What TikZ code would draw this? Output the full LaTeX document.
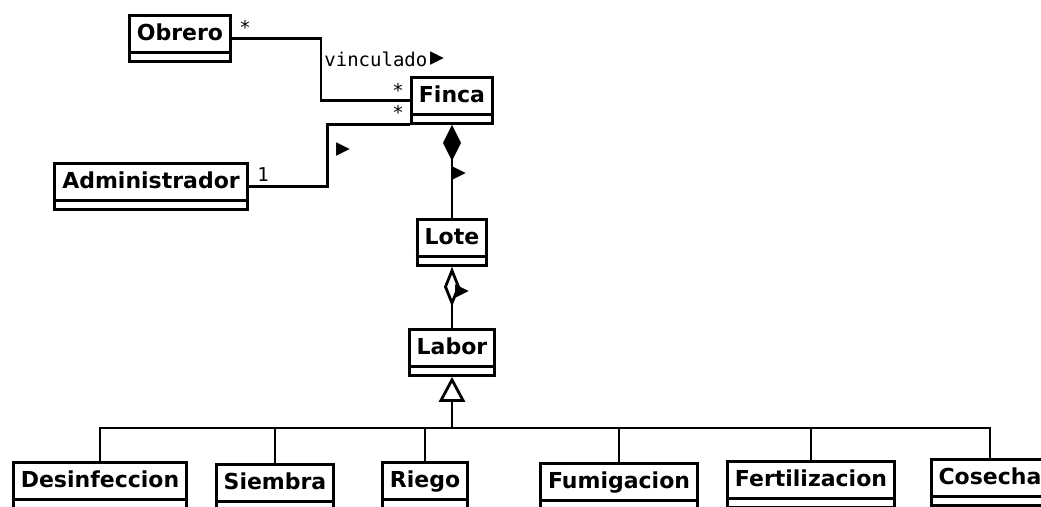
\documentclass[tikz,border=0pt]{standalone}
\usepackage{fontspec}
\setmainfont{DejaVu Sans}
\newfontfamily\monofont{DejaVu Sans Mono}
\usetikzlibrary{arrows.meta}

\begin{document}
\begin{tikzpicture}[x=1pt,y=-1pt,line width=2.8pt,
    clase/.style={draw,anchor=north,font=\fontsize{22}{26}\selectfont\bfseries,
      inner xsep=7.5pt,inner ysep=0pt,text height=25pt,text depth=21pt},
    etiqueta/.style={font=\fontsize{19}{21}\selectfont\monofont,inner sep=0pt},
    sentido/.style={font=\fontsize{23}{25}\selectfont\monofont,inner sep=0pt}]
  \clip (0,0) rectangle (1041,506);
  \node[clase] (obrero) at (180,14) {Obrero};
  \node[clase] (finca) at (452,76) {Finca};
  \node[clase] (admin) at (151,162) {Administrador};
  \node[clase] (lote) at (452,218) {Lote};
  \node[clase] (labor) at (452,328) {Labor};
  \node[clase] (desinf) at (100,461) {Desinfeccion};
  \node[clase] (siembra) at (275,463) {Siembra};
  \node[clase] (riego) at (425,461) {Riego};
  \node[clase] (fumig) at (619,462) {Fumigacion};
  \node[clase] (fertil) at (811,460) {Fertilizacion};
  \node[clase] (cosecha) at (990,458) {Cosecha};
  % compartimento vacio de cada clase
  \foreach \c in {obrero,finca,admin,lote,labor,desinf,siembra,riego,fumig,fertil,cosecha}
    \draw ([yshift=10pt]\c.south west) -- ([yshift=10pt]\c.south east);
  % asociaciones
  \draw (obrero.east) -- ++(89,0) |- (finca);
  \draw (admin.east) -- ++(79,0) |- (finca.south west);
  \draw[-{Diamond[length=36pt,width=18pt]}] (lote) -- (finca);
  \draw[-{Diamond[open,length=40pt,width=16pt]}] (labor) -- (lote);
  % herencia
  \coordinate (bus) at (452,428);
  \draw[-{Triangle[open,length=25pt,width=26pt]}] (bus) -- (labor);
  \foreach \c in {desinf,siembra,riego,fumig,fertil,cosecha}
    \draw (\c) |- (bus);
  % multiplicidades y nombres
  \node[etiqueta] (m1) at (245,27) {*};
  \node[etiqueta,anchor=west] (vinc) at (323,59) {vinculado};
  \node[sentido,anchor=west] (d0) at (vinc.east) {▶};
  \node[etiqueta] (m2) at (398,90) {*};
  \node[etiqueta] (m3) at (398,112) {*};
  \node[etiqueta] (m4) at (263,175) {1};
  \node[sentido] (d1) at (343,150) {▶};
  \node[sentido] (d2) at (459,174) {▶};
  \node[sentido] (d3) at (462,292) {▶};
\end{tikzpicture}
\end{document}
